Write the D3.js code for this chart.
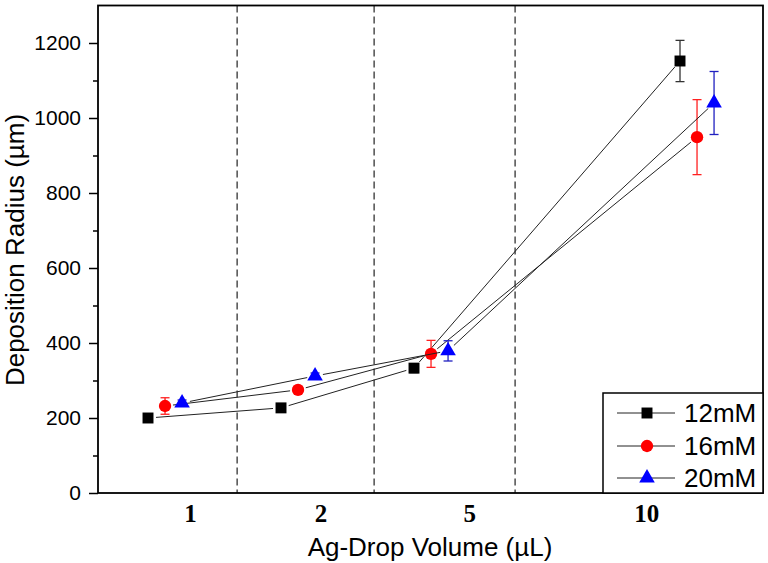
<!DOCTYPE html>
<html>
<head>
<meta charset="utf-8">
<script src="https://cdn.jsdelivr.net/npm/d3@7"></script>
<style>
body { margin: 0; background: #fff; }
svg { display: block; }
</style>
</head>
<body>
<svg id="chart"></svg>
<script>
var w = 768;
var h = 563;

// x categories (drop volume, µL) and where the plotted groups sit
var volumes = ["1", "2", "5", "10"];
var groupX = [1, 2, 3, 5];
var labelX = [1.32, 2.30, 3.42, 4.75];
var dividerX = [1.67, 2.70, 3.76];

var seriesNames = ["12mM", "16mM", "20mM"];
var seriesShift = [0, 0.128, 0.256];
var r12 = [200, 227, 333, 1152];
var r16 = [232, 275, 371, 949];
var r20 = [240, 312, 379, 1040];
var e12 = [8, 6, 12, 55];
var e16 = [22, 8, 36, 100];
var e20 = [8, 8, 27, 84];

var yTicks = [0, 200, 400, 600, 800, 1000, 1200];
var yMinor = [100, 300, 500, 700, 900, 1100];

var colors = ["#000000", "#ff0000", "#0000ff"];
var errColors = ["#333333", "#ff2020", "#2020c0"];
var shapes = [d3.symbolSquare, d3.symbolCircle, d3.symbolTriangle];
var shapeSize = [120, 120, 105];

var sans = "'Liberation Sans', Arial, sans-serif";
var serif = "'Liberation Serif', 'Times New Roman', serif";

var pLeft = 98, pRight = 763, pTop = 5.5, pBottom = 493;

var x = d3.scaleLinear().domain([0.624, 5.624]).range([pLeft, pRight]);
var y = d3.scaleLinear().domain([0, 1300]).range([pBottom, pTop]);

var svg = d3.select("#chart").attr("width", w).attr("height", h);

// dashed separators between the groups
svg.selectAll(".divider")
    .data(dividerX)
    .enter().append("line")
    .attr("x1", function(d) { return x(d); })
    .attr("x2", function(d) { return x(d); })
    .attr("y1", pTop)
    .attr("y2", pBottom)
    .attr("stroke", "#222")
    .attr("stroke-width", 1.2)
    .attr("stroke-dasharray", "7,4");

// y axis
var yAxis = svg.append("g")
    .attr("transform", "translate(" + pLeft + ",0)")
    .call(d3.axisLeft(y).tickValues(yTicks).tickFormat(d3.format("d")).tickSize(9).tickPadding(8));
yAxis.select(".domain").remove();
yAxis.selectAll("line").attr("stroke", "#000").attr("stroke-width", 1.5);
yAxis.attr("font-family", sans).attr("font-size", 21);
yAxis.selectAll("text").attr("fill", "#000");

var yAxisMinor = svg.append("g")
    .attr("transform", "translate(" + pLeft + ",0)")
    .call(d3.axisLeft(y).tickValues(yMinor).tickSize(5).tickFormat(""));
yAxisMinor.select(".domain").remove();
yAxisMinor.selectAll("line").attr("stroke", "#000").attr("stroke-width", 1.5);

// category labels
svg.selectAll(".catTxt")
    .data(volumes)
    .enter().append("text")
    .attr("x", function(d, i) { return x(labelX[i]); })
    .attr("y", 522)
    .attr("text-anchor", "middle")
    .attr("font-family", serif)
    .attr("font-weight", "bold")
    .attr("font-size", 25)
    .text(function(d) { return d; });

// titles
svg.append("text")
    .attr("x", 430)
    .attr("y", 556)
    .attr("text-anchor", "middle")
    .attr("font-family", sans)
    .attr("font-size", 26)
    .text("Ag-Drop Volume (µL)");

svg.append("text")
    .attr("transform", "translate(24,250) rotate(-90)")
    .attr("text-anchor", "middle")
    .attr("font-family", sans)
    .attr("font-size", 26)
    .text("Deposition Radius (µm)");

// series
var allVals = [r12, r16, r20];
var allErrs = [e12, e16, e20];

for (var s = 0; s < 3; s++) {
    var pts = groupX.map(function(g, i) {
        return { px: x(g + seriesShift[s]), py: y(allVals[s][i]), v: allVals[s][i], e: allErrs[s][i] };
    });

    // connecting lines, with a small gap around each marker
    var gap = 8;
    for (var i = 0; i < pts.length - 1; i++) {
        var a = pts[i], b = pts[i + 1];
        var dx = b.px - a.px, dy = b.py - a.py;
        var len = Math.sqrt(dx * dx + dy * dy);
        var ux = dx / len, uy = dy / len;
        svg.append("line")
            .attr("x1", a.px + ux * gap)
            .attr("y1", a.py + uy * gap)
            .attr("x2", b.px - ux * gap)
            .attr("y2", b.py - uy * gap)
            .attr("stroke", "#222")
            .attr("stroke-width", 1);
    }

    var grp = svg.append("g");
    // error bars
    pts.forEach(function(p) {
        var yt = y(p.v + p.e), yb = y(p.v - p.e);
        grp.append("line")
            .attr("x1", p.px).attr("x2", p.px)
            .attr("y1", yt).attr("y2", yb)
            .attr("stroke", errColors[s]).attr("stroke-width", 1.3);
        grp.append("line")
            .attr("x1", p.px - 4.5).attr("x2", p.px + 4.5)
            .attr("y1", yt).attr("y2", yt)
            .attr("stroke", errColors[s]).attr("stroke-width", 1.3);
        grp.append("line")
            .attr("x1", p.px - 4.5).attr("x2", p.px + 4.5)
            .attr("y1", yb).attr("y2", yb)
            .attr("stroke", errColors[s]).attr("stroke-width", 1.3);
    });

    grp.selectAll(".mark")
        .data(pts)
        .enter().append("path")
        .attr("d", d3.symbol().type(shapes[s]).size(shapeSize[s]))
        .attr("transform", function(d) { return "translate(" + d.px + "," + d.py + ")"; })
        .attr("fill", colors[s]);
}

// frame
svg.append("rect")
    .attr("x", pLeft)
    .attr("y", pTop)
    .attr("width", pRight - pLeft)
    .attr("height", pBottom - pTop)
    .attr("fill", "none")
    .attr("stroke", "#000")
    .attr("stroke-width", 1.8);

// legend
var leg = svg.append("g");
leg.append("rect")
    .attr("x", 603)
    .attr("y", 393)
    .attr("width", 160)
    .attr("height", 100)
    .attr("fill", "#fff")
    .attr("stroke", "#000")
    .attr("stroke-width", 1.5);

var legY = [413, 446, 478];
seriesNames.forEach(function(name, i) {
    leg.append("line")
        .attr("x1", 617).attr("x2", 675)
        .attr("y1", legY[i]).attr("y2", legY[i])
        .attr("stroke", "#222").attr("stroke-width", 1);
    leg.append("path")
        .attr("d", d3.symbol().type(shapes[i]).size(shapeSize[i]))
        .attr("transform", "translate(647," + legY[i] + ")")
        .attr("fill", colors[i]);
    leg.append("text")
        .attr("x", 684)
        .attr("y", legY[i])
        .attr("dy", "0.36em")
        .attr("font-family", sans)
        .attr("font-size", 26)
        .text(name);
});
</script>
</body>
</html>
